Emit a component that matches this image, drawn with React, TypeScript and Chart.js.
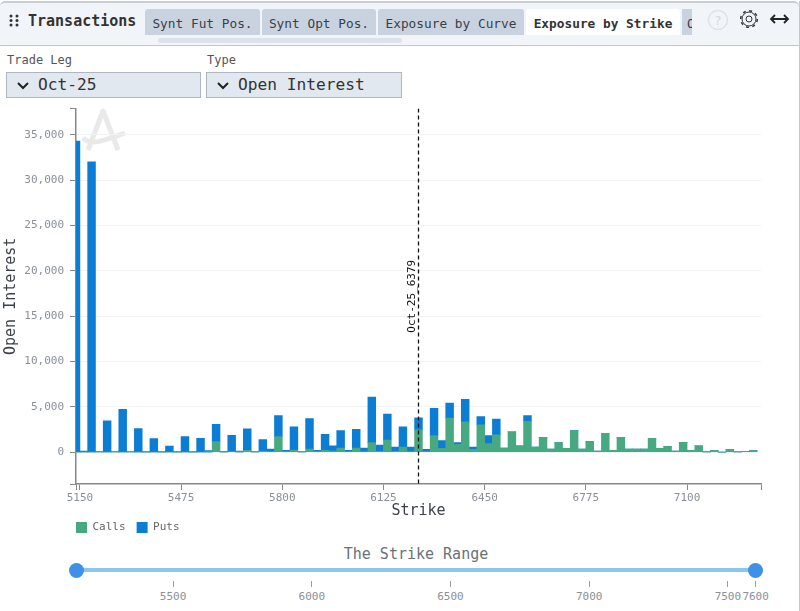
import React, { useEffect, useRef } from "react";
import { Chart, registerables } from "chart.js";

Chart.register(...registerables);

const MONO = '"DejaVu Sans Mono", monospace';

const strikes = [
  5150, 5175, 5200, 5225, 5250, 5275, 5300, 5325, 5350, 5375, 5400, 5425, 5450, 5475, 5500, 5525,
  5550, 5575, 5600, 5625, 5650, 5675, 5700, 5725, 5750, 5775, 5800, 5825, 5850, 5875, 5900, 5925,
  5950, 5975, 6000, 6025, 6050, 6075, 6100, 6125, 6150, 6175, 6200, 6225, 6250, 6275, 6300, 6325,
  6350, 6375, 6400, 6425, 6450, 6475, 6500, 6525, 6550, 6575, 6600, 6625, 6650, 6675, 6700, 6725,
  6750, 6775, 6800, 6825, 6850, 6875, 6900, 6925, 6950, 6975, 7000, 7025, 7050, 7075, 7100, 7125,
  7150, 7175, 7200, 7225, 7250, 7275, 7300, 7325,
];
const calls = [
  0, 0, 0, 0, 0, 0, 0, 0, 0, 0, 0, 0, 0, 0, 0, 0,
  0, 20, 1150, 20, 50, 20, 180, 10, 100, 30, 1700, 30, 230, 0, 330, 30,
  180, 100, 440, 30, 440, 30, 1040, 60, 1330, 60, 560, 50, 2440, 50, 1810, 410,
  3740, 850, 3330, 300, 3000, 925, 1890, 440, 2220, 700, 3370, 560, 1590, 330, 1040, 400,
  2370, 330, 1150, 100, 2040, 180, 1590, 330, 330, 330, 1520, 400, 630, 100, 1070, 180,
  700, 20, 150, 0, 260, 20, 70, 150,
];
const puts = [
  34300, 100, 32000, 30, 3440, 30, 4700, 30, 2590, 20, 1480, 20, 670, 20, 1700, 20,
  1520, 130, 1920, 60, 1800, 100, 2370, 50, 1270, 300, 2330, 170, 2545, 30, 3370, 150,
  1780, 600, 1930, 150, 2080, 410, 5030, 720, 2850, 500, 2220, 510, 1330, 250, 3000, 850,
  1660, 190, 2480, 260, 920, 885, 1740, 0, 0, 0, 660, 0, 0, 0, 0, 0,
  0, 0, 0, 0, 0, 0, 0, 0, 0, 0, 0, 0, 0, 0, 0, 0,
  0, 0, 0, 0, 0, 0, 0, 0,
];

const xTickLabels = [5150, 5475, 5800, 6125, 6450, 6775, 7100];
const yTickLabels = [0, 5000, 10000, 15000, 20000, 25000, 30000, 35000];
const xMin = 5150;
const xMax = 7350;
const yMin = -3524;
const yMax = 37885;
// the source draws bars at the band start but ticks at the band centre
const halfBand = 12.5;
const spotStrike = 6250;
const spotLabel = "Oct-25_6379";

const rangeTicks = [5500, 6000, 6500, 7000, 7500, 7600];
const tabs = [
  { label: "Synt Fut Pos.", left: 145, width: 115 },
  { label: "Synt Opt Pos.", left: 262, width: 114 },
  { label: "Exposure by Curve", left: 378, width: 146 },
];

const legendPadding = 11;

const rangeX = (v: number) => 76 + (v - 5150) * 0.2774;

const spotLabelPlugin = {
  id: "spotLabel",
  beforeDraw(chart: any) {
    // legend items start one padding in from the box, pull them back onto the axis
    chart.legend.left = chart.chartArea.left - legendPadding;
  },
  afterDatasetsDraw(chart: any) {
    const { ctx, chartArea, scales } = chart;
    ctx.save();
    ctx.translate(scales.x.getPixelForValue(spotStrike) - 6, (chartArea.top + chartArea.bottom) / 2);
    ctx.rotate(-Math.PI / 2);
    ctx.font = `11px ${MONO}`;
    ctx.fillStyle = "#111";
    ctx.textAlign = "center";
    ctx.textBaseline = "middle";
    ctx.fillText(spotLabel, 0, 0);
    ctx.restore();
  },
};

const Chevron = ({ left, top }: { left: number; top: number }) => (
  <svg style={{ position: "absolute", left, top }} width="14" height="10">
    <path d="M2 2 L7 7 L12 2" fill="none" stroke="#222" strokeWidth="2" />
  </svg>
);

const Select = ({ left, width, label, value }: { left: number; width: number; label: string; value: string }) => (
  <>
    <div style={{ position: "absolute", left: left + 1, top: 53, font: `12px ${MONO}`, color: "#555" }}>{label}</div>
    <div
      style={{
        position: "absolute",
        left,
        top: 72,
        width,
        height: 26,
        boxSizing: "border-box",
        background: "#e2e8f0",
        border: "1px solid #aeb6c2",
      }}
    >
      <Chevron left={9} top={8} />
      <div style={{ position: "absolute", left: 31, top: 2, font: `16.2px ${MONO}`, color: "#333", whiteSpace: "nowrap" }}>
        {value}
      </div>
    </div>
  </>
);

const App = () => {
  const chartRef = useRef<HTMLCanvasElement>(null);

  useEffect(() => {
    document.body.style.margin = "0";
    if (!chartRef.current) return;

    const tickFont = { family: MONO, size: 11 };
    const titleFont = { family: MONO, size: 15 };

    const chart = new Chart(chartRef.current, {
      type: "bar",
      plugins: [spotLabelPlugin],
      data: {
        datasets: [
          {
            type: "line",
            label: "spot",
            stack: "spot",
            order: -1,
            data: [
              { x: spotStrike, y: yMax },
              { x: spotStrike, y: yMin },
            ],
            borderColor: "#111",
            borderWidth: 1.3,
            borderDash: [4, 3],
            pointRadius: 0,
          },
          {
            label: "Calls",
            data: strikes.map((x, i) => ({ x, y: calls[i] })),
            backgroundColor: "#46a982",
            barThickness: 7.8,
          },
          {
            label: "Puts",
            data: strikes.map((x, i) => ({ x, y: puts[i] })),
            backgroundColor: "#0b7dd4",
            barThickness: 7.8,
          },
        ],
      } as any,
      options: {
        responsive: false,
        animation: false,
        layout: { padding: { top: 7, right: 39, left: 2, bottom: 0 } },
        plugins: {
          tooltip: { enabled: false },
          legend: {
            position: "bottom",
            align: "start",
            fullSize: false,
            labels: {
              boxWidth: 11,
              boxHeight: 11,
              padding: legendPadding,
              color: "#666",
              font: { family: MONO, size: 11 },
              filter: (item: any) => item.text !== "spot",
            },
          },
        },
        scales: {
          x: {
            type: "linear",
            stacked: true,
            offset: false,
            min: xMin,
            max: xMax,
            afterFit: (axis: any) => {
              axis.height = 27;
            },
            afterBuildTicks: (axis: any) => {
              axis.ticks = [
                { value: xMin },
                ...xTickLabels.map((v) => ({ value: v + halfBand })),
                { value: xMax },
              ];
            },
            ticks: {
              autoSkip: false,
              maxRotation: 0,
              color: "#8a8f98",
              font: tickFont,
              padding: 2,
              callback: (v: any) => (v === xMin || v === xMax ? "" : String(v - halfBand)),
            },
            grid: { offset: false, drawOnChartArea: false, tickColor: "#888", tickLength: 6 },
            border: { color: "#888", width: 1.5 },
            title: { display: true, text: "Strike", color: "#3c4048", font: titleFont, padding: { top: 0, bottom: -9 } },
          },
          y: {
            stacked: true,
            min: yMin,
            max: yMax,
            afterFit: (axis: any) => {
              axis.width = 74;
            },
            afterBuildTicks: (axis: any) => {
              axis.ticks = [{ value: yMin }, ...yTickLabels.map((value) => ({ value })), { value: yMax }];
            },
            ticks: {
              autoSkip: false,
              color: "#8a8f98",
              font: tickFont,
              padding: 6,
              callback: (v: any) => (v === yMin || v === yMax ? "" : Number(v).toLocaleString("en-US")),
            },
            grid: {
              color: (c: any) => (c.tick && (c.tick.value === yMin || c.tick.value === yMax) ? "transparent" : "#f1f2f4"),
              tickColor: "#888",
              tickLength: 6,
            },
            border: { color: "#888", width: 1.5 },
            title: { display: true, text: "Open Interest", color: "#3c4048", font: titleFont, padding: { top: 0, bottom: 0 } },
          },
        },
      } as any,
    });

    return () => chart.destroy();
  }, []);

  return (
    <div style={{ position: "relative", width: 800, height: 611, background: "#fff", overflow: "hidden" }}>
      {/* header bar */}
      <div
        style={{
          position: "absolute",
          left: 0,
          top: 1,
          width: 799,
          height: 45,
          boxSizing: "border-box",
          background: "#f1f5f9",
          borderTop: "2px solid #c9ced6",
          borderBottom: "1px solid #c2c8d0",
          borderRadius: "5px 5px 0 0",
        }}
      />
      <div style={{ position: "absolute", left: 799, top: 1, width: 1, height: 610, background: "#c2c8d0" }} />
      <svg style={{ position: "absolute", left: 9, top: 14 }} width="10" height="13">
        {[2, 6.5, 11].map((cy) =>
          [2, 8].map((cx) => <circle key={`${cx}-${cy}`} cx={cx} cy={cy} r="1.5" fill="#333" />)
        )}
      </svg>
      <div style={{ position: "absolute", left: 28, top: 12, font: `bold 15px ${MONO}`, color: "#333" }}>Transactions</div>

      {tabs.map((t) => (
        <div
          key={t.label}
          style={{
            position: "absolute",
            left: t.left,
            top: 9,
            width: t.width,
            height: 26,
            background: "#c9d3df",
            borderRadius: "3px 3px 0 0",
            font: `12.8px ${MONO}`,
            color: "#3a3f47",
            textAlign: "center",
            lineHeight: "29px",
            whiteSpace: "nowrap",
          }}
        >
          {t.label}
        </div>
      ))}
      <div
        style={{
          position: "absolute",
          left: 526,
          top: 9,
          width: 154,
          height: 26,
          background: "#fff",
          borderRadius: "3px 3px 0 0",
          font: `bold 12.8px ${MONO}`,
          color: "#333",
          textAlign: "center",
          lineHeight: "29px",
          whiteSpace: "nowrap",
        }}
      >
        Exposure by Strike
      </div>
      <div
        style={{
          position: "absolute",
          left: 682,
          top: 9,
          width: 10,
          height: 26,
          background: "#c9d3df",
          overflow: "hidden",
          font: `12.8px ${MONO}`,
          color: "#3a3f47",
          lineHeight: "29px",
          paddingLeft: 5,
          boxSizing: "border-box",
        }}
      >
        O
      </div>
      <div style={{ position: "absolute", left: 158, top: 38, width: 244, height: 5, background: "#dde2e8", borderRadius: 3 }} />

      {/* header icons */}
      <svg style={{ position: "absolute", left: 705, top: 6 }} width="90" height="30">
        <circle cx="13" cy="14" r="9.5" fill="none" stroke="#dfe2e6" strokeWidth="1.5" />
        <text x="13" y="19" textAnchor="middle" fontSize="13" fontFamily="'DejaVu Sans'" fill="#d5d8dc">?</text>
        <circle cx="44" cy="13" r="3" fill="none" stroke="#333" strokeWidth="1" />
        <circle cx="44" cy="13" r="7" fill="none" stroke="#333" strokeWidth="1" />
        <circle cx="44" cy="13" r="8.3" fill="none" stroke="#333" strokeWidth="1.5" strokeDasharray="3 3.5" />
        <path d="M66 13 H83 M70 9 L66 13 L70 17 M79 9 L83 13 L79 17" fill="none" stroke="#222" strokeWidth="1.8" />
      </svg>

      <Select left={6} width={195} label="Trade Leg" value="Oct-25" />
      <Select left={206} width={196} label="Type" value="Open Interest" />

      {/* watermark behind the chart */}
      <svg style={{ position: "absolute", left: 78, top: 105 }} width="55" height="50">
        <path
          d="M10 45 L25 6 L40 45 M5 33 C12 40 20 38 47 28"
          fill="none"
          stroke="#e9e9ea"
          strokeWidth="5"
          strokeLinejoin="round"
        />
      </svg>

      <canvas ref={chartRef} width={800} height={447} style={{ position: "absolute", left: 0, top: 96 }} />

      {/* strike range slider */}
      <div
        style={{
          position: "absolute",
          left: 0,
          top: 545,
          width: 832,
          textAlign: "center",
          font: `15px ${MONO}`,
          color: "#6b7078",
        }}
      >
        The Strike Range
      </div>
      <div style={{ position: "absolute", left: rangeX(5150), top: 568, width: rangeX(7600) - rangeX(5150), height: 4, background: "#8cc6ef" }} />
      {[5150, 7600].map((v) => (
        <div
          key={v}
          style={{
            position: "absolute",
            left: rangeX(v) - 7.5,
            top: 562.5,
            width: 15,
            height: 15,
            borderRadius: "50%",
            background: "#3f90e8",
          }}
        />
      ))}
      {rangeTicks.map((v) => (
        <React.Fragment key={v}>
          <div style={{ position: "absolute", left: rangeX(v) - 0.5, top: 581, width: 1, height: 6, background: "#9a9ea5" }} />
          <div
            style={{
              position: "absolute",
              left: rangeX(v) - 20,
              top: 590,
              width: 40,
              textAlign: "center",
              font: `11px ${MONO}`,
              color: "#8a8f98",
            }}
          >
            {v}
          </div>
        </React.Fragment>
      ))}
    </div>
  );
};

export default App;
